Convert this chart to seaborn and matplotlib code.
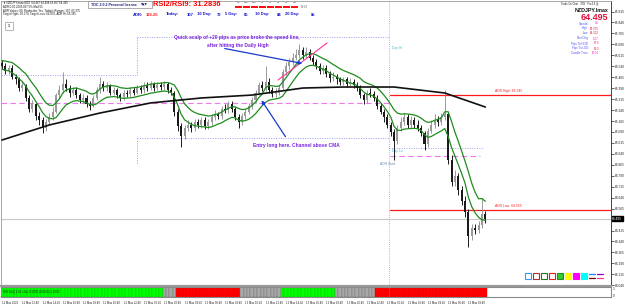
import numpy as np
import pandas as pd
import matplotlib
matplotlib.use("Agg")
import matplotlib.pyplot as plt
import seaborn as sns
from matplotlib.patches import Rectangle

# ---------------- data ----------------
open_first = 65.56
close = [65.54, 65.51, 65.53, 65.47, 65.45, 65.39, 65.41, 65.32, 65.25, 65.28,
         65.20, 65.17, 65.12, 65.16, 65.19, 65.23, 65.34, 65.38, 65.42, 65.39,
         65.36, 65.38, 65.34, 65.31, 65.32, 65.28, 65.27, 65.32, 65.38, 65.42,
         65.39, 65.41, 65.36, 65.38, 65.34, 65.33, 65.36, 65.35, 65.38, 65.36,
         65.39, 65.38, 65.41, 65.39, 65.42, 65.39, 65.41, 65.40, 65.42, 65.38,
         65.36, 65.23, 65.13, 65.06, 65.12, 65.14, 65.12, 65.16, 65.14, 65.17,
         65.13, 65.16, 65.19, 65.21, 65.20, 65.25, 65.24, 65.28, 65.25, 65.19,
         65.16, 65.20, 65.23, 65.27, 65.31, 65.36, 65.41, 65.39, 65.43, 65.38,
         65.35, 65.36, 65.39, 65.50, 65.54, 65.57, 65.60, 65.62, 65.65, 65.62,
         65.64, 65.60, 65.57, 65.54, 65.51, 65.53, 65.49, 65.46, 65.47, 65.45,
         65.43, 65.45, 65.42, 65.43, 65.41, 65.39, 65.34, 65.31, 65.36, 65.35,
         65.32, 65.27, 65.23, 65.19, 65.14, 65.09, 65.03, 65.12, 65.16, 65.19,
         65.14, 65.17, 65.14, 65.12, 65.08, 65.01, 65.10, 65.14, 65.17, 65.16,
         65.19, 65.21, 64.90, 64.75, 64.79, 64.69, 64.62, 64.54, 64.38, 64.43,
         64.42, 64.45, 64.53, 64.495]
high = [65.58, 65.56, 65.55, 65.55, 65.49, 65.47, 65.43, 65.42, 65.34, 65.31,
        65.29, 65.23, 65.19, 65.18, 65.22, 65.26, 65.36, 65.41, 65.50, 65.45,
        65.41, 65.40, 65.40, 65.36, 65.35, 65.34, 65.30, 65.34, 65.40, 65.47,
        65.44, 65.43, 65.42, 65.40, 65.39, 65.36, 65.38, 65.38, 65.40, 65.40,
        65.41, 65.41, 65.43, 65.43, 65.44, 65.43, 65.43, 65.43, 65.44, 65.43,
        65.40, 65.37, 65.25, 65.15, 65.14, 65.17, 65.16, 65.18, 65.18, 65.19,
        65.19, 65.18, 65.21, 65.24, 65.23, 65.27, 65.28, 65.30, 65.30, 65.26,
        65.21, 65.22, 65.25, 65.29, 65.33, 65.38, 65.43, 65.44, 65.54, 65.46,
        65.40, 65.39, 65.41, 65.52, 65.57, 65.60, 65.63, 65.66, 65.69, 65.67,
        65.67, 65.66, 65.62, 65.59, 65.56, 65.55, 65.55, 65.51, 65.50, 65.49,
        65.47, 65.47, 65.47, 65.46, 65.45, 65.43, 65.41, 65.36, 65.38, 65.39,
        65.37, 65.34, 65.29, 65.25, 65.21, 65.16, 65.11, 65.14, 65.19, 65.22,
        65.21, 65.20, 65.19, 65.17, 65.14, 65.10, 65.12, 65.17, 65.21, 65.20,
        65.22, 65.375, 65.23, 64.93, 64.83, 64.81, 64.72, 64.65, 64.56, 64.46,
        64.46, 64.48, 64.64, 64.55]
low = [65.52, 65.49, 65.49, 65.45, 65.42, 65.37, 65.37, 65.30, 65.23, 65.23,
       65.17, 65.14, 65.08, 65.10, 65.14, 65.17, 65.22, 65.32, 65.36, 65.37,
       65.33, 65.34, 65.32, 65.29, 65.29, 65.26, 65.24, 65.26, 65.31, 65.36,
       65.37, 65.37, 65.34, 65.34, 65.32, 65.30, 65.31, 65.33, 65.33, 65.34,
       65.35, 65.36, 65.36, 65.37, 65.38, 65.37, 65.38, 65.38, 65.38, 65.36,
       65.34, 65.20, 65.10, 64.99, 65.04, 65.10, 65.09, 65.10, 65.12, 65.12,
       65.11, 65.11, 65.14, 65.17, 65.18, 65.18, 65.22, 65.22, 65.23, 65.17,
       65.12, 65.14, 65.18, 65.21, 65.25, 65.29, 65.34, 65.37, 65.37, 65.36,
       65.33, 65.33, 65.34, 65.38, 65.48, 65.52, 65.55, 65.58, 65.60, 65.59,
       65.60, 65.58, 65.55, 65.52, 65.49, 65.49, 65.47, 65.43, 65.44, 65.42,
       65.41, 65.41, 65.40, 65.40, 65.39, 65.37, 65.32, 65.28, 65.29, 65.33,
       65.30, 65.25, 65.21, 65.16, 65.12, 65.06, 64.90, 65.01, 65.10, 65.14,
       65.12, 65.12, 65.12, 65.10, 65.06, 64.97, 64.99, 65.08, 65.12, 65.13,
       65.14, 65.17, 64.87, 64.72, 64.72, 64.66, 64.59, 64.51, 64.302, 64.35,
       64.39, 64.40, 64.43, 64.47]

sma_idx = [0, 14, 29, 44, 59, 74, 89, 101, 116, 131, 143]
sma_val = [65.035, 65.138, 65.220, 65.289, 65.323, 65.343, 65.391, 65.398, 65.398, 65.357, 65.261]

trend_state = ["up", "flat", "down", "flat", "up", "flat", "down"]
trend_runs = [48, 4, 19, 12, 16, 12, 33]

date_labels = ["11 May 2020", "11 May 12:40", "11 May 14:40", "11 May 16:40", "11 May 18:40",
               "11 May 20:40", "11 May 22:40", "12 May 00:40", "12 May 02:40", "12 May 04:40",
               "12 May 06:40", "12 May 08:40", "12 May 10:40", "12 May 12:40", "12 May 14:40",
               "12 May 16:40", "12 May 18:40", "12 May 20:40", "12 May 22:40", "13 May 00:40",
               "13 May 02:40", "13 May 04:40", "13 May 06:40", "13 May 08:40"]
bars_per_label = 6

price_ticks = [64.040, 64.115, 64.190, 64.265, 64.340, 64.415, 64.490, 64.565, 64.640,
               64.715, 64.790, 64.865, 64.940, 65.015, 65.090, 65.165, 65.240, 65.315,
               65.390, 65.465, 65.540, 65.615, 65.690, 65.765, 65.840, 65.915]

current_price = 64.495
adr_high = 65.345
adr_low = 64.555
prev_high_11 = 65.480
day_high_12 = 65.741
day_low_12 = 65.049
day_low_13 = 64.980
pivot_12 = 65.289
pivot_13 = 64.926

# ---------------- style ----------------
sns.set_style("white")
plt.rcParams["font.family"] = ["Liberation Sans", "DejaVu Sans"]

W, H = 625, 304
fig = plt.figure(figsize=(W / 100, H / 100), dpi=100)
fig.patch.set_facecolor("white")

PX_BAR = 3.38
def bx(xpx):
    return (xpx - 2) / PX_BAR
def py(ypx):
    return 65.994 - ypx / 146.0

ax = fig.add_axes([1 / W, 18 / H, 610 / W, 285 / H])
ax.set_xlim(bx(1), bx(611))
ax.set_ylim(py(286), py(1))
ax.set_facecolor("white")

x = np.arange(len(close))
c = np.array(close)
o = np.array([open_first] + close[:-1])
hi = np.array(high)
lo = np.array(low)
bull = c >= o
cols = np.where(bull, "#9a9a9a", "#1a1a1a")

DOT = (0, (1, 1.5))
LAV = "#9c9cf0"
# reference levels
ax.axhline(current_price, color="#c8c8c8", lw=0.8, zorder=1)
ax.plot([bx(1), bx(137)], [prev_high_11] * 2, ls=DOT, color=LAV, lw=0.7)
ax.plot([bx(137), bx(137)], [prev_high_11, day_high_12], ls=DOT, color=LAV, lw=0.7)
ax.plot([bx(137), bx(389)], [day_high_12] * 2, ls=DOT, color=LAV, lw=0.7)
ax.plot([bx(137), bx(389)], [day_low_12] * 2, ls=DOT, color=LAV, lw=0.7)
ax.plot([bx(137), bx(137)], [day_low_12, py(165)], ls=DOT, color=LAV, lw=0.7)
ax.plot([bx(389), bx(483)], [day_low_13] * 2, ls=DOT, color=LAV, lw=0.7)
ax.plot([bx(1), bx(390)], [pivot_12] * 2, ls=(0, (5, 3)), color="#ee7aee", lw=0.8)
ax.plot([bx(390), bx(480)], [pivot_13] * 2, ls=(0, (5, 3)), color="#ee7aee", lw=0.8)
ax.axvline(bx(389), color="#a0a0a0", ls=DOT, lw=0.6)
ax.plot([bx(390), bx(611)], [adr_high] * 2, color="#ff1a1a", lw=0.9)
ax.plot([bx(390), bx(611)], [adr_low] * 2, color="#ff1a1a", lw=0.9)
ax.text(bx(495), adr_high + 0.012, f"ADR High: {adr_high:.3f}", color="#ff2020", fontsize=2.4, va="bottom")
ax.text(bx(495), adr_low + 0.012, f"ADR Low: {adr_low:.3f}", color="#ff2020", fontsize=2.4, va="bottom")
ax.text(bx(392), py(48), "Day Hi", color="#30c0e0", fontsize=2.4, va="center")
ax.text(bx(392), py(151), "Day Lo", color="#30c0e0", fontsize=2.4, va="center")
ax.text(bx(380), py(164), "ADR Start", color="#6a8fb0", fontsize=2.4, va="center")

# candles
ax.vlines(x, lo, hi, colors=cols, lw=0.7, zorder=3)
body = np.maximum(np.abs(c - o), 0.004)
ax.bar(x, body, bottom=np.minimum(o, c), width=0.6, color=cols, linewidth=0, zorder=3)

# channel & SMA
ch_hi = pd.Series(hi).ewm(span=8, adjust=False).mean()
ch_lo = pd.Series(lo).ewm(span=8, adjust=False).mean()
sns.lineplot(x=x, y=ch_hi.values, color="#1e8c1e", lw=0.9, ax=ax, zorder=4)
sns.lineplot(x=x, y=ch_lo.values, color="#1e8c1e", lw=0.9, ax=ax, zorder=4)
sns.lineplot(x=sma_idx, y=sma_val, color="#111111", lw=1.2, ax=ax, zorder=4)

# speed line and arrows
ax.plot([bx(278), bx(327)], [py(80), py(43)], color="#ff3399", lw=0.8, zorder=5)
arrow_kw = dict(arrowstyle="-|>", color="#1a3ad0", lw=0.9, mutation_scale=5)
ax.annotate("", xy=(bx(305), py(64)), xytext=(bx(222), py(48)), arrowprops=arrow_kw, zorder=6)
ax.annotate("", xy=(bx(260), py(98)), xytext=(bx(287), py(139)), arrowprops=arrow_kw, zorder=6)

PURPLE = "#7a22e0"
ax.text(bx(237), py(37), "Quick scalp of +20 pips as price broke the speed line,", color=PURPLE,
        fontsize=3.5, fontweight="bold", va="center", ha="center")
ax.text(bx(238), py(45), "after hitting the Daily High", color=PURPLE,
        fontsize=3.5, fontweight="bold", va="center", ha="center")
ax.text(bx(296), py(145), "Entry long here. Channel above CMA", color=PURPLE,
        fontsize=3.5, fontweight="bold", va="center", ha="center")

# axes look
ax.yaxis.tick_right()
ax.set_yticks(price_ticks)
ax.set_yticklabels(["" if abs(v - current_price) < 0.03 else f"{v:.3f}" for v in price_ticks])
ax.tick_params(axis="y", labelsize=2.3, length=1.8, width=0.5, pad=0.8, colors="#222222", direction="out")
ax.set_xticks([])
for s in ["left", "top"]:
    ax.spines[s].set_color("#9a9a9a")
    ax.spines[s].set_linewidth(0.6)
ax.spines["right"].set_color("#444444")
ax.spines["right"].set_linewidth(0.7)
ax.spines["bottom"].set_color("#9a9a9a")
ax.spines["bottom"].set_linewidth(1.6)
ax.text(1.002, current_price, f"{current_price:.3f}", transform=ax.get_yaxis_transform(),
        color="white", fontsize=2.3, va="center", ha="left",
        bbox=dict(boxstyle="square,pad=0.15", fc="black", ec="black"), zorder=10, clip_on=False)

# colored squares (legend-like widgets)
sq_specs = [("#3399ff", None), ("#b03030", None), ("#207a20", None), ("#e02020", None),
            ("#1f8f1f", "#33cc33"), ("#ffff00", "#ffff00"), ("#ff00ff", "#ff00ff"), ("#00ffff", "#00ffff")]
for k, (ec, fc) in enumerate(sq_specs):
    x0 = 525 + 8 * k
    fig.patches.append(Rectangle((x0 / W, 1 - 279 / H), 6 / W, 6 / H, transform=fig.transFigure,
                                 fc=fc if fc else "white", ec=ec, lw=0.8))
for k, (top_c, bot_c) in enumerate([("#2080ff", "#7a0000"), ("#8000c0", "#ff3090")]):
    x0 = 525 + 8 * (8 + k)
    fig.add_artist(plt.Line2D([x0 / W, (x0 + 6) / W], [1 - 274 / H] * 2, color=top_c, lw=0.9))
    fig.add_artist(plt.Line2D([x0 / W, (x0 + 6) / W], [1 - 278 / H] * 2, color=bot_c, lw=0.9))

# ---------------- indicator strip ----------------
axi = fig.add_axes([1 / W, 7 / H, 610 / W, 10 / H])
axi.set_xlim(bx(1), bx(611))
axi.set_ylim(-0.33, 1.33)
states = np.repeat(trend_state, trend_runs)
fill = {"up": "#00ff00", "flat": "#a8a8a8", "down": "#ff0000"}
edge = {"up": "#00c800", "flat": "#707070", "down": "#e00000"}
axi.bar(x, 1.66, bottom=-0.33, width=1.0, color=[fill[s] for s in states],
        edgecolor=[edge[s] for s in states], linewidth=0.3)
axi.axvline(bx(389), color="#a0a0a0", ls=DOT, lw=0.6)
axi.text(bx(3), 0.5, "RSI 14(2) 1.00 = No: 0.0000 (0.0000) 1.0000", fontsize=2.0, color="#202020", va="center")
axi.yaxis.tick_right()
axi.set_yticks([0, 1])
axi.set_yticklabels(["0", "1"])
axi.tick_params(axis="y", labelsize=2.3, length=0, pad=1.5)
tick_pos = [k * bars_per_label for k in range(len(date_labels))]
axi.set_xticks(tick_pos)
axi.set_xticklabels(date_labels, ha="left")
axi.tick_params(axis="x", labelsize=1.95, length=2, width=0.5, pad=0.8, colors="#222222")
for s in axi.spines.values():
    s.set_color("#8a8a8a")
    s.set_linewidth(0.8)

# ---------------- header texts ----------------
def T(xp, yp, s, **kw):
    kw.setdefault("va", "center")
    kw.setdefault("fontsize", 2.0)
    fig.text(xp / W, 1 - yp / H, s, **kw)

T(3, 3, "\u25bc NZDJPY.lmax,M10  64.467 64.498 64.467 64.495", color="#111111", family=["Liberation Sans", "DejaVu Sans"])
T(3, 7, "ADR 0.00 2005.857 5% Mod 55", color="#111111")
T(3, 11, "ADR Values: 80, Rewheeler: Yes, Today's Ranges: 107, 65.375", color="#111111")
T(3, 14.5, "Target Highs: 65.270, Target Lows: 64.000, ADR Hi: 65.345", color="#111111")

fig.patches.append(Rectangle((88 / W, 1 - 8 / H), 64 / W, 7 / H, transform=fig.transFigure,
                             fc="white", ec="#8a8a8a", lw=0.5))
T(90.5, 4.5, "TDC 2.0.2 Personal license", color="#1a1a80", fontweight="bold", fontsize=2.6)
T(141, 4.5, "\u25bc\u25b2\u25bc", color="#1a1a80", fontsize=2.2, family=["DejaVu Sans"])
T(153, 5, "RSI2/RSI9: 31.2836", color="#ff0000", fontweight="bold", fontsize=5.4)

tf = ["M5", "M15", "M30", "H1", "H4", "D1", "W1", "MN"]
for k, lab in enumerate(tf):
    x0 = 235 + 8 * k
    T(x0 + 3.5, 2.7, lab, color="#333333", fontsize=1.7, ha="center")
    fig.patches.append(Rectangle((x0 / W, 1 - 8 / H), 7 / W, 2.4 / H, transform=fig.transFigure,
                                 fc="#ff1010", ec="none"))
T(301, 6.5, "09:08", color="#666666", fontsize=2.0)

row = [(133, "ADR:", "#1515d0"), (146, "126.25", "#ff1a1a"), (166, "Today:", "#1515d0"),
       (187, "107", "#1515d0"), (197, "10 Day:", "#1515d0"), (217, "72", "#1515d0"),
       (225, "5 Day:", "#1515d0"), (244, "65", "#1515d0"), (255, "10 Day:", "#1515d0"),
       (277, "84", "#1515d0"), (285, "20 Day:", "#1515d0"), (311, "85", "#1515d0")]
for xp, s, col in row:
    T(xp, 14.5, s, color=col, fontweight="bold", fontsize=3.0)

fig.patches.append(Rectangle((5 / W, 1 - 30 / H), 8 / W, 8 / H, transform=fig.transFigure,
                             fc="white", ec="#9a9a9a", lw=0.5))
T(9, 26, "1", color="#333333", fontsize=2.6, ha="center", fontweight="bold")

# right info panel
T(561, 4.5, "Trade On Chat   3TB   Pro4.8 (i)", color="#222222", fontsize=1.9)
T(608, 10.5, "NZDJPY.lmax", color="#111111", fontweight="bold", fontsize=3.8, ha="right")
T(608, 18, "64.495", color="#e0103c", fontweight="bold", fontsize=6.5, ha="right")
info = [("Spread", "4.5", "#ff20c0"), ("High", "65.375", "#e0103c"), ("Low", "64.302", "#e0103c"),
        ("Net Chg", "-107", "#ff20c0"), ("Pips To HOD", "87.5", "#e0103c"),
        ("Pips To LOD", "19.3", "#e0103c"), ("Candle Time", "10:56", "#ff20c0")]
for k, (lab, val, vc) in enumerate(info):
    yy = 23.5 + 5 * k
    T(588, yy, lab, color="#4a4aff", fontsize=2.1, ha="right")
    T(599, yy, val, color=vc, fontsize=2.1, ha="right")

fig.savefig("out.png", dpi=100)
